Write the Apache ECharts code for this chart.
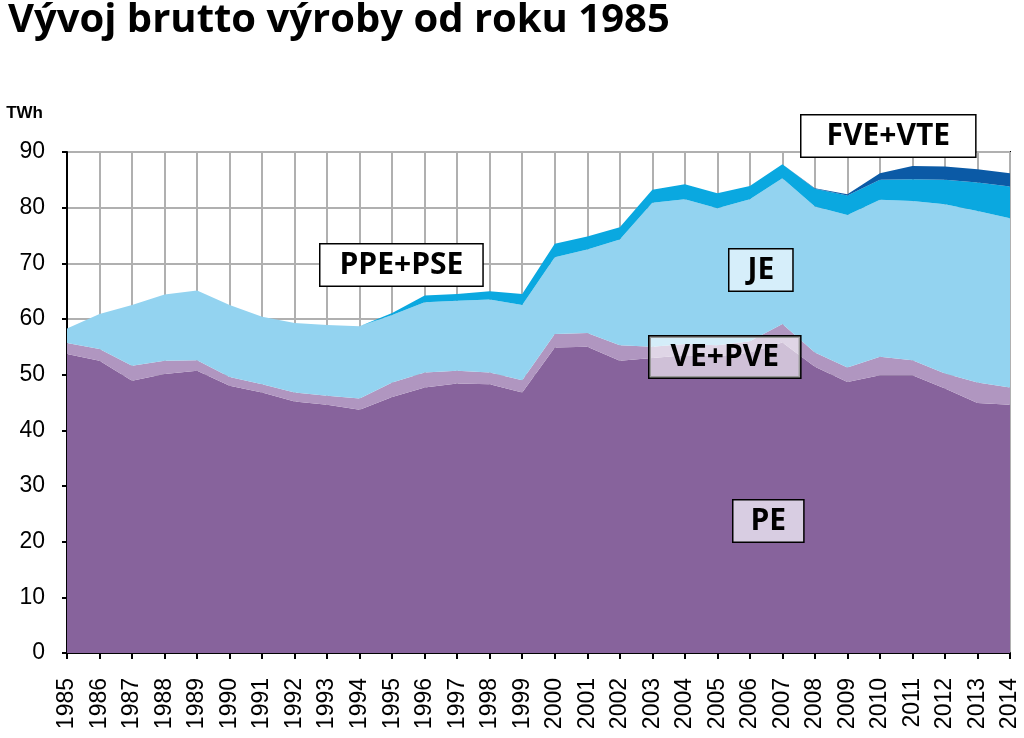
<!DOCTYPE html>
<html>
<head>
<meta charset="utf-8">
<script src="https://cdn.jsdelivr.net/npm/echarts@6/dist/echarts.min.js"></script>
<style>
  html, body { margin: 0; padding: 0; background: #fff; }
  #chart { width: 1024px; height: 738px; }
</style>
</head>
<body>
<div id="chart"></div>
<script>
// roky
const years = [
  "1985", "1986", "1987", "1988", "1989", "1990", "1991", "1992", "1993", "1994",
  "1995", "1996", "1997", "1998", "1999", "2000", "2001", "2002", "2003", "2004",
  "2005", "2006", "2007", "2008", "2009", "2010", "2011", "2012", "2013", "2014"
];

// brutto výroba podle zdrojů, TWh
const pe = [53.7, 52.5, 48.9, 50.1, 50.7, 48.0, 46.8, 45.2, 44.6, 43.7,
  46.0, 47.7, 48.4, 48.3, 46.8, 54.9, 55.0, 52.5, 53.0, 53.5,
  53.3, 54.0, 55.8, 51.4, 48.7, 49.9, 49.9, 47.5, 44.9, 44.6];
const vePve = [2.0, 2.1, 2.7, 2.4, 1.9, 1.6, 1.5, 1.6, 1.6, 2.0,
  2.6, 2.7, 2.3, 2.1, 2.2, 2.4, 2.5, 2.8, 2.0, 2.0,
  2.0, 2.0, 3.3, 2.6, 2.6, 3.3, 2.7, 2.7, 3.7, 3.1];
const je = [2.6, 6.3, 10.9, 11.9, 12.5, 12.9, 12.1, 12.5, 12.7, 13.0,
  12.1, 12.6, 12.6, 13.1, 13.5, 13.8, 15.0, 19.0, 25.9, 26.0,
  24.6, 25.5, 26.2, 26.2, 27.4, 28.2, 28.6, 30.4, 30.8, 30.4];
const ppePse = [0, 0, 0, 0, 0, 0, 0, 0, 0, 0,
  0.4, 1.2, 1.2, 1.5, 2.0, 2.4, 2.3, 2.2, 2.3, 2.7,
  2.7, 2.4, 2.5, 3.2, 3.5, 3.6, 3.9, 4.4, 5.1, 5.7];
const fveVte = [0, 0, 0, 0, 0, 0, 0, 0, 0, 0,
  0, 0, 0, 0, 0, 0, 0, 0, 0, 0,
  0, 0, 0, 0.1, 0.2, 1.2, 2.4, 2.4, 2.4, 2.4];

const yTicks = { min: 0, max: 90, interval: 10 };

const chart = echarts.init(document.getElementById("chart"));

const area = (name, data, color) => ({
  name,
  type: "line",
  stack: "total",
  data,
  symbol: "none",
  lineStyle: { width: 0 },
  areaStyle: { color, opacity: 1 },
  z: 2,
});

const boxFont = 'bold 30px "Open Sans", "Noto Sans", sans-serif';
const box = (text, left, top, bg, padX = 19) => ({
  type: "text",
  left,
  top,
  z: 100,
  style: {
    text,
    font: boxFont,
    lineHeight: 35,
    fill: "#000",
    backgroundColor: bg,
    borderColor: "#000",
    borderWidth: 1.5,
    padding: [3, padX, 3, padX],
  },
});

chart.setOption({
  animation: false,
  title: {
    text: "Vývoj brutto výroby od roku 1985",
    left: 3,
    top: -4,
    textStyle: {
      fontFamily: '"Open Sans", "Noto Sans", sans-serif',
      fontWeight: "bold",
      fontSize: 40,
      color: "#000",
    },
  },
  grid: {
    left: 67,
    right: 14,
    top: 152,
    bottom: 85,
    show: true,
    borderColor: "#000",
    borderWidth: 2,
    backgroundColor: "transparent",
  },
  xAxis: {
    type: "category",
    data: years,
    boundaryGap: false,
    axisLine: { lineStyle: { color: "#000", width: 2 } },
    axisTick: { show: true, inside: false, length: 6, lineStyle: { color: "#000", width: 2 } },
    axisLabel: {
      rotate: 90,
      margin: 25,
      fontFamily: '"Liberation Sans", Arial, sans-serif',
      fontSize: 23,
      color: "#000",
      interval: 0,
    },
    splitLine: { show: true, lineStyle: { color: "#b0b0b0", width: 2 } },
  },
  yAxis: {
    type: "value",
    min: yTicks.min,
    max: yTicks.max,
    interval: yTicks.interval,
    name: "TWh",
    nameLocation: "end",
    nameGap: 30,
    nameTextStyle: {
      fontFamily: '"Liberation Sans", Arial, sans-serif',
      fontWeight: "bold",
      fontSize: 17,
      color: "#000",
      align: "right",
      padding: [0, 24, 0, 0],
    },
    axisLine: { show: true, lineStyle: { color: "#000", width: 2 } },
    axisTick: { show: true, length: 5, lineStyle: { color: "#000", width: 2 } },
    axisLabel: {
      margin: 22,
      fontFamily: '"Liberation Sans", Arial, sans-serif',
      fontSize: 23,
      color: "#000",
    },
    splitLine: { show: true, lineStyle: { color: "#b0b0b0", width: 2 } },
  },
  series: [
    area("PE", pe, "#87639c"),
    area("VE+PVE", vePve, "#b096c0"),
    area("JE", je, "#93d3f0"),
    area("PPE+PSE", ppePse, "#0aa8e0"),
    area("FVE+VTE", fveVte, "#0b5aa6"),
  ],
  graphic: [
    box("PPE+PSE", 319, 243, "#ffffff"),
    box("FVE+VTE", 800, 114, "#ffffff", 25),
    box("JE", 728, 248, "#d6eefa", 18),
    box("VE+PVE", 648, 335, "rgba(255,255,255,0.6)", 21),
    box("PE", 732, 499, "#d8cde2", 17),
  ],
});
</script>
</body>
</html>
